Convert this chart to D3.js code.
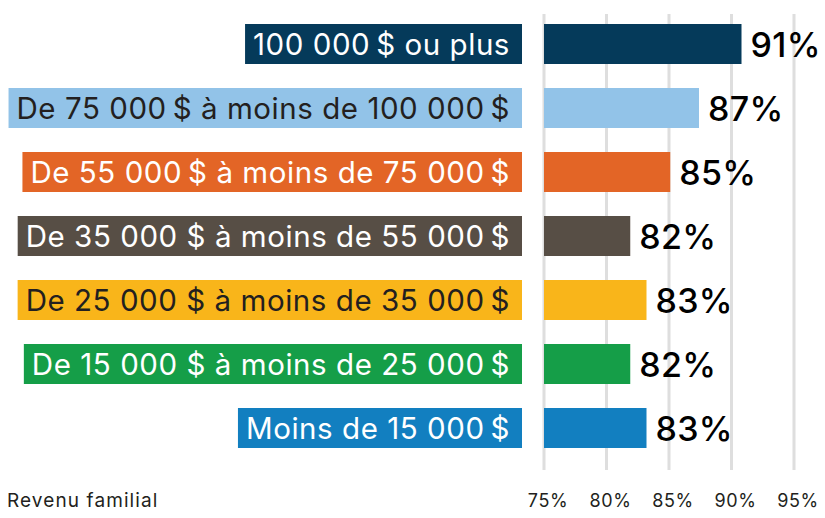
<!DOCTYPE html>
<html>
<head>
<meta charset="utf-8">
<script src="https://cdn.jsdelivr.net/npm/d3@7"></script>
<style>
  body { margin: 0; background: #fff; }
  svg { display: block; font-family: Inter, "Open Sans", sans-serif; }
</style>
</head>
<body>
<svg id="chart" width="825" height="518"></svg>
<script>
const categories = [
  '100 000\u2009$ ou plus',
  'De 75 000\u2009$ à moins de 100 000\u2009$',
  'De 55 000\u2009$ à moins de 75 000\u2009$',
  'De 35 000 $ à moins de 55 000\u2009$',
  'De 25 000 $ à moins de 35 000\u2009$',
  'De 15 000 $ à moins de 25 000\u2009$',
  'Moins de 15 000\u2009$'
];
const values = [90.8, 87.4, 85.1, 81.9, 83.2, 81.9, 83.2];
const colors = ['#053a5a', '#92c3e8', '#e36526', '#574e45', '#f9b51a', '#159e48', '#127fc0'];
const textColors = ['#fff', '#231f20', '#fff', '#fff', '#231f20', '#fff', '#fff'];
const tickValues = [75, 80, 85, 90, 95];
const axisTitle = 'Revenu familial';

const svg = d3.select('#chart');

const x = d3.scaleLinear().domain([75, 95]).range([544, 794]);
const y = d3.scaleBand().domain(categories).range([12, 460])
    .paddingInner(0.375).paddingOuter(0.1875);

// vertical gridlines
svg.append('g').selectAll('line')
    .data(tickValues)
  .enter().append('line')
    .attr('x1', d => x(d)).attr('x2', d => x(d))
    .attr('y1', 14).attr('y2', 470)
    .attr('stroke', '#dedede')
    .attr('stroke-width', 3);

// tick labels
svg.append('g').selectAll('text')
    .data(tickValues)
  .enter().append('text')
    .attr('x', d => x(d) + 4)
    .attr('y', 507)
    .attr('text-anchor', 'middle')
    .attr('font-size', 18)
    .attr('letter-spacing', 0.6)
    .attr('fill', '#231f20')
    .text(d => d + '%');

svg.append('text')
    .attr('x', 7).attr('y', 507)
    .attr('font-size', 19)
    .attr('letter-spacing', 1.1)
    .attr('fill', '#231f20')
    .text(axisTitle);

// bars
svg.append('g').selectAll('rect')
    .data(values)
  .enter().append('rect')
    .attr('x', x(75))
    .attr('y', (d, i) => y(categories[i]))
    .attr('width', d => x(d) - x(75))
    .attr('height', y.bandwidth())
    .attr('fill', (d, i) => colors[i]);

// value labels
svg.append('g').selectAll('text')
    .data(values)
  .enter().append('text')
    .attr('x', d => x(d) + 9)
    .attr('y', (d, i) => y(categories[i]) + y.bandwidth() / 2 + 12.5)
    .attr('font-size', 34)
    .attr('font-weight', 500)
    .attr('letter-spacing', 0.3)
    .attr('fill', '#000')
    .text(d => Math.round(d) + '%');

// category labels with coloured boxes
const lab = svg.append('g').selectAll('g')
    .data(categories)
  .enter().append('g');

lab.append('rect')
    .attr('fill', (d, i) => colors[i]);

lab.append('text')
    .attr('x', 510)
    .attr('y', d => y(d) + y.bandwidth() / 2 + 10.5)
    .attr('text-anchor', 'end')
    .attr('font-size', 29.5)
    .attr('letter-spacing', 0.55)
    .attr('fill', (d, i) => textColors[i])
    .text(d => d);

lab.each(function (d) {
  const g = d3.select(this);
  const bb = g.select('text').node().getBBox();
  g.select('rect')
    .attr('x', bb.x - 8)
    .attr('y', y(d))
    .attr('width', 522 - (bb.x - 8))
    .attr('height', y.bandwidth());
});
</script>
</body>
</html>
